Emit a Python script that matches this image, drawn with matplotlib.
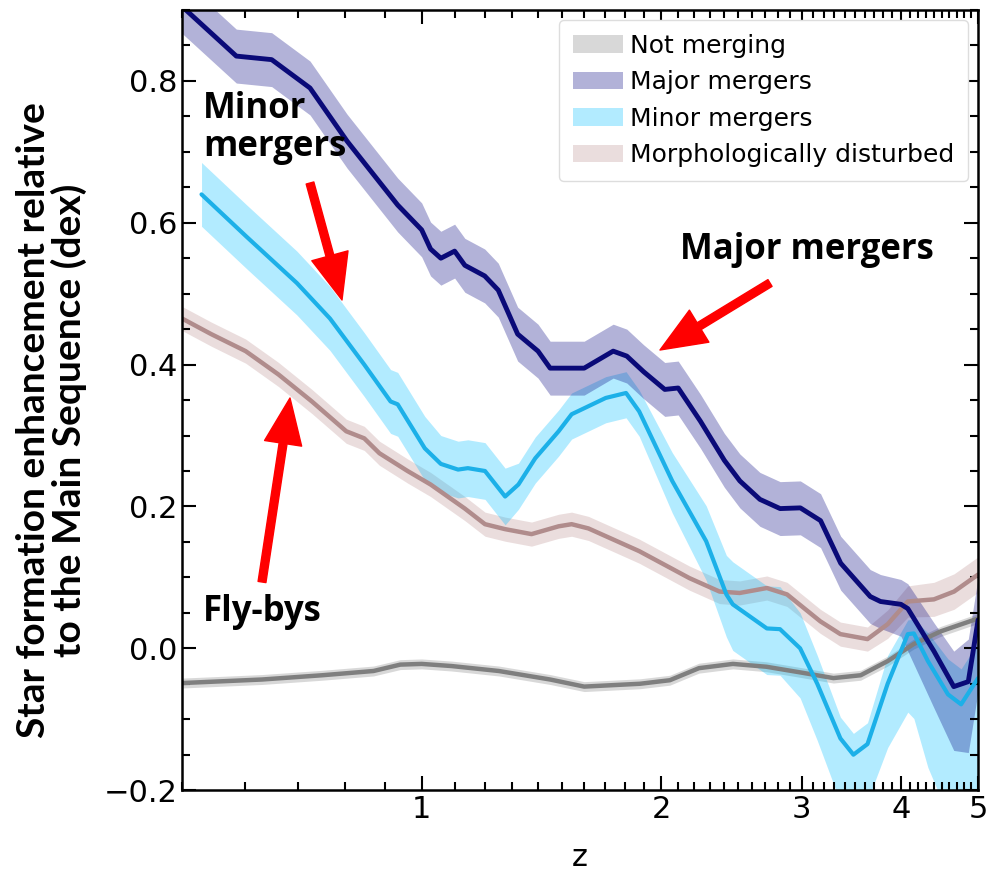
import numpy as np
import matplotlib
matplotlib.use("Agg")
import matplotlib.pyplot as plt
from matplotlib.ticker import FixedLocator, NullFormatter, MultipleLocator

# ---- data (z, value, lower/upper band offsets) ----
z_not = [0.5, 0.63, 0.75, 0.87, 0.94, 1.00, 1.09, 1.25, 1.45, 1.60, 1.88, 2.05, 2.23,
         2.46, 2.71, 2.99, 3.29, 3.56, 3.85, 4.15, 4.49, 5.0]
y_not = [-0.049, -0.044, -0.038, -0.032, -0.023, -0.022, -0.025, -0.032, -0.044, -0.054,
         -0.050, -0.045, -0.028, -0.022, -0.026, -0.034, -0.042, -0.038, -0.018, 0.006,
         0.024, 0.042]
e_not = [0.007] * len(z_not)

z_maj = [0.5, 0.585, 0.648, 0.724, 0.806, 0.933, 1.0, 1.026, 1.057, 1.10, 1.133, 1.20,
         1.248, 1.32, 1.40, 1.45, 1.52, 1.60, 1.74, 1.81, 1.90, 2.02, 2.10, 2.24, 2.40,
         2.51, 2.66, 2.82, 2.99, 3.17, 3.36, 3.66, 3.77, 4.00, 4.08, 4.40, 4.66, 4.86, 5.0]
y_maj = [0.905, 0.835, 0.83, 0.79, 0.715, 0.625, 0.59, 0.563, 0.55, 0.56, 0.54, 0.525,
         0.505, 0.443, 0.419, 0.395, 0.395, 0.395, 0.419, 0.412, 0.39, 0.365, 0.367, 0.32,
         0.265, 0.236, 0.21, 0.197, 0.198, 0.18, 0.12, 0.073, 0.066, 0.062, 0.056, -0.004,
         -0.054, -0.047, 0.04]
lo_maj = [0.038] * 33 + [0.045, 0.06, 0.08, 0.09, 0.10, 0.10]
hi_maj = [0.038] * 33 + [0.035, 0.035, 0.04, 0.05, 0.06, 0.06]

z_min = [0.529, 0.603, 0.697, 0.767, 0.847, 0.914, 0.933, 1.009, 1.057, 1.111, 1.143,
         1.201, 1.273, 1.323, 1.389, 1.486, 1.543, 1.703, 1.806, 1.876, 2.064, 2.277,
         2.414, 2.459, 2.714, 2.819, 2.988, 3.14, 3.357, 3.486, 3.631, 3.849, 4.08, 4.152,
         4.324, 4.583, 4.76, 5.0]
y_min = [0.64, 0.58, 0.515, 0.465, 0.40, 0.348, 0.344, 0.282, 0.26, 0.252, 0.254, 0.25,
         0.214, 0.231, 0.268, 0.306, 0.33, 0.353, 0.36, 0.334, 0.236, 0.151, 0.076, 0.062,
         0.028, 0.027, 0.0, -0.05, -0.127, -0.15, -0.135, -0.05, 0.02, 0.021, -0.018,
         -0.065, -0.079, -0.042]
lo_min = [0.045] * 8 + [0.04] * 5 + [0.035] * 7 + [0.045, 0.055, 0.06, 0.065, 0.065,
          0.065, 0.07, 0.08, 0.09, 0.09, 0.08, 0.09, 0.11, 0.12, 0.15, 0.17, 0.17, 0.17]
hi_min = [0.045] * 8 + [0.04] * 5 + [0.03] * 7 + [0.04, 0.05, 0.055, 0.06, 0.06,
          0.06, 0.05, 0.04, 0.03, 0.03, 0.03, 0.04, 0.02, 0.02, 0.04, 0.05, 0.05, 0.05]

z_mor = [0.5, 0.544, 0.601, 0.661, 0.728, 0.804, 0.847, 0.885, 0.96, 1.026, 1.133,
         1.201, 1.273, 1.374, 1.486, 1.543, 1.62, 1.876, 2.169, 2.367, 2.509, 2.714, 2.877,
         3.168, 3.357, 3.631, 3.849, 4.08, 4.4, 4.664, 5.0]
y_mor = [0.465, 0.443, 0.419, 0.386, 0.348, 0.306, 0.296, 0.275, 0.25, 0.231, 0.197,
         0.175, 0.168, 0.161, 0.172, 0.175, 0.169, 0.137, 0.099, 0.08, 0.078, 0.085, 0.076,
         0.038, 0.02, 0.013, 0.034, 0.066, 0.069, 0.08, 0.104]
e_mor = [0.017] * 26 + [0.02, 0.022, 0.024, 0.025, 0.025]

legend_labels = ["Not merging", "Major mergers", "Minor mergers", "Morphologically disturbed"]

fig = plt.figure(figsize=(9.92, 8.76), dpi=100)
ax = fig.add_axes([0.1835, 0.098, 0.8025, 0.8906])

def band(z, y, lo, hi, line_c, fill_c, lw, label):
    z = np.array(z); y = np.array(y)
    f = ax.fill_between(z, y - np.array(lo), y + np.array(hi), color=fill_c, alpha=0.3,
                        linewidth=0, label=label)
    ax.plot(z, y, color=line_c, lw=lw, solid_capstyle="round", solid_joinstyle="round")
    return f

h_not = band(z_not, y_not, e_not, e_not, "#7f7f7f", "grey", 3.2, legend_labels[0])
h_mor = band(z_mor, y_mor, e_mor, e_mor, "#b08c8c", "rosybrown", 3.2, legend_labels[3])
h_min = band(z_min, y_min, lo_min, hi_min, "#1cb0e8", "deepskyblue", 3.0, legend_labels[2])
h_maj = band(z_maj, y_maj, lo_maj, hi_maj, "#0a0a78", "navy", 3.5, legend_labels[1])

ax.set_xscale("log")
ax.set_xlim(0.5, 5)
ax.set_ylim(-0.2, 0.9)
ax.xaxis.set_major_locator(FixedLocator([1, 2, 3, 4, 5]))
ax.xaxis.set_minor_locator(MultipleLocator(0.1))
ax.xaxis.set_minor_formatter(NullFormatter())
ax.set_xticklabels(["1", "2", "3", "4", "5"])
ax.yaxis.set_major_locator(MultipleLocator(0.2))
ax.yaxis.set_minor_locator(MultipleLocator(0.05))
ax.tick_params(which="both", direction="in", top=True, right=True, labelsize=22, width=1.5)
ax.tick_params(which="major", length=10)
ax.tick_params(which="minor", length=6)
for s in ax.spines.values():
    s.set_linewidth(1.8)
ax.set_xlabel("z", fontsize=22, labelpad=14)

ax.legend([h_not, h_maj, h_min, h_mor], legend_labels, loc="upper right", fontsize=18,
          labelspacing=0.5, handletextpad=0.3, borderaxespad=0.4, framealpha=1,
          edgecolor="#dddddd", borderpad=0.55)

fig.text(0.052, 1 - 420 / 876, "Star formation enhancement relative\nto the Main Sequence (dex)",
         rotation=90, ha="center", va="center", multialignment="center", fontsize=28,
         fontweight="bold", family=["Lato", "DejaVu Sans"], linespacing=1.0)

def fx(px):
    return px / 992

def fy(py):
    return 1 - py / 876

note_font = dict(fontsize=25, fontweight="bold", family=["Open Sans", "DejaVu Sans"],
                 color="black")
fig.text(fx(203), fy(128), "Minor\nmergers", ha="left", va="center", linespacing=1.05, **note_font)
fig.text(fx(680), fy(250), "Major mergers", ha="left", va="center", **note_font)
fig.text(fx(203), fy(612), "Fly-bys", ha="left", va="center", **note_font)

arrow = dict(arrowstyle="simple,head_length=1.1,head_width=0.9,tail_width=0.19",
             mutation_scale=30, color="#ff0000", shrinkA=0, shrinkB=0)
for tail, tip in [((310, 183), (342, 300)), ((770, 283), (660, 350)), ((262, 582), (290, 398))]:
    ax.annotate("", xy=(fx(tip[0]), fy(tip[1])), xycoords="figure fraction",
                xytext=(fx(tail[0]), fy(tail[1])), textcoords="figure fraction",
                arrowprops=arrow)

fig.savefig("out.png", dpi=100)
